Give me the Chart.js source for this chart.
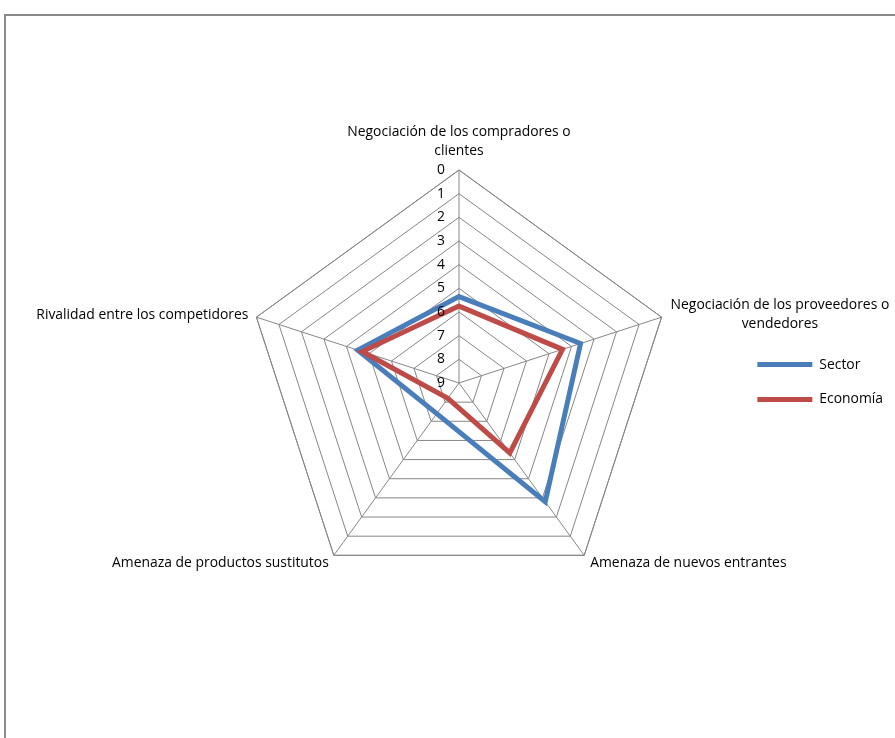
<!DOCTYPE html>
<html>
<head>
<meta charset="utf-8">
<script src="https://cdn.jsdelivr.net/npm/chart.js@4/dist/chart.umd.min.js"></script>
<style>
  html, body { margin: 0; padding: 0; background: #fff; overflow: hidden; }
  #wrap { width: 895px; height: 738px; position: relative; }
</style>
</head>
<body>
<div id="wrap"><canvas id="c" width="895" height="738"></canvas></div>
<script>
// Five forces, scored 0 (outer ring) to 9 (centre)
const categories = [
  ['Negociación de los compradores o', 'clientes'],
  ['Negociación de los proveedores o', 'vendedores'],
  ['Amenaza de nuevos entrantes'],
  ['Amenaza de productos sustitutos'],
  ['Rivalidad entre los competidores']
];
const sectorValues   = [5.35, 3.6, 2.8, 7.4, 4.5];
const economiaValues = [5.75, 4.4, 5.35, 8.2, 4.7];
const tickValues = [0, 1, 2, 3, 4, 5, 6, 7, 8, 9];

const FONT = '"Open Sans", Lato, sans-serif';
const FONT_SIZE = 13.9;
const GRID = '#868686';

// Fixed geometry of the web
const CENTER_X = 459;
const CENTER_Y = 383;
const RADIUS = 213;

// Label placement relative to each outer vertex: dx, dy, alignment
const labelPlacement = [
  { dx: 0,   dy: -28, align: 'center', block: 'center' },
  { dx: 9,   dy: -3,  align: 'center', block: 'left' },
  { dx: 6,   dy: 8,   align: 'left',   block: 'left' },
  { dx: -5,  dy: 8,   align: 'right',  block: 'right' },
  { dx: -8,  dy: -2,  align: 'right',  block: 'right' }
];

const webExtras = {
  id: 'webExtras',
  beforeDatasetsDraw(chart) {
    // outer ring (value 0) of the reversed scale
    const s = chart.scales.r;
    const ctx = chart.ctx;
    const d = s.getDistanceFromCenterForValue(tickValues[0]);
    ctx.save();
    ctx.strokeStyle = GRID;
    ctx.lineWidth = 1;
    ctx.beginPath();
    for (let i = 0; i < categories.length; i++) {
      const p = s.getPointPosition(i, d);
      if (i === 0) ctx.moveTo(p.x, p.y); else ctx.lineTo(p.x, p.y);
    }
    ctx.closePath();
    ctx.stroke();
    ctx.restore();
  },
  afterDatasetsDraw(chart) {
    const s = chart.scales.r;
    const ctx = chart.ctx;
    ctx.save();
    ctx.fillStyle = '#000';
    ctx.font = FONT_SIZE + 'px ' + FONT;
    ctx.textBaseline = 'middle';

    // tick labels beside the vertical spoke
    ctx.textAlign = 'right';
    tickValues.forEach(v => {
      const y = s.yCenter - s.getDistanceFromCenterForValue(v);
      ctx.fillText(String(v), s.xCenter - 14, y);
    });

    // category labels around the web
    const lineH = 19;
    categories.forEach((lines, i) => {
      const p = s.getPointPosition(i, s.getDistanceFromCenterForValue(tickValues[0]));
      const pl = labelPlacement[i];
      const widths = lines.map(t => ctx.measureText(t).width);
      const blockW = Math.max(...widths);
      const top = p.y + pl.dy - (lines.length - 1) * lineH / 2;
      let cx;
      if (pl.block === 'center') cx = p.x + pl.dx;
      else if (pl.block === 'left') cx = p.x + pl.dx + blockW / 2;
      else cx = p.x + pl.dx - blockW / 2;
      lines.forEach((t, k) => {
        const y = top + k * lineH;
        if (pl.align === 'center') { ctx.textAlign = 'center'; ctx.fillText(t, cx, y); }
        else if (pl.align === 'left') { ctx.textAlign = 'left'; ctx.fillText(t, cx - blockW / 2, y); }
        else { ctx.textAlign = 'right'; ctx.fillText(t, cx + blockW / 2, y); }
      });
    });
    ctx.restore();
  },
  afterDraw(chart) {
    // chart frame
    const ctx = chart.ctx;
    ctx.save();
    ctx.strokeStyle = '#8a8a8a';
    ctx.lineWidth = 2;
    ctx.beginPath();
    ctx.moveTo(5, 760);
    ctx.lineTo(5, 15);
    ctx.lineTo(920, 15);
    ctx.stroke();
    ctx.restore();
  }
};

new Chart(document.getElementById('c'), {
  type: 'radar',
  data: {
    labels: categories,
    datasets: [
      {
        label: 'Sector',
        data: sectorValues,
        borderColor: '#4a7ebb',
        backgroundColor: '#4a7ebb',
        borderWidth: 5,
        borderCapStyle: 'round',
        fill: false,
        pointRadius: 0,
        pointHoverRadius: 0,
        order: 1
      },
      {
        label: 'Economía',
        data: economiaValues,
        borderColor: '#be4b48',
        backgroundColor: '#be4b48',
        borderWidth: 5,
        borderCapStyle: 'round',
        fill: false,
        pointRadius: 0,
        pointHoverRadius: 0,
        order: 0
      }
    ]
  },
  options: {
    responsive: false,
    devicePixelRatio: 1,
    animation: false,
    layout: { padding: { top: 26, right: 2, bottom: 0, left: 0 } },
    elements: { line: { tension: 0, borderJoinStyle: 'miter' } },
    plugins: {
      legend: {
        position: 'right',
        labels: {
          usePointStyle: true,
          pointStyle: 'line',
          pointStyleWidth: 55,
          padding: 21,
          color: '#000',
          font: { family: FONT, size: FONT_SIZE },
          sort: (a, b) => a.datasetIndex - b.datasetIndex
        }
      },
      tooltip: { enabled: false }
    },
    scales: {
      r: {
        min: 0,
        max: 9,
        reverse: true,
        ticks: { stepSize: 1, display: false },
        grid: { color: GRID, lineWidth: 1 },
        angleLines: { color: GRID, lineWidth: 1 },
        pointLabels: { display: false },
        afterFit(scale) {
          scale.xCenter = CENTER_X;
          scale.yCenter = CENTER_Y;
          scale.drawingArea = RADIUS;
        }
      }
    }
  },
  plugins: [webExtras]
});
</script>
</body>
</html>
